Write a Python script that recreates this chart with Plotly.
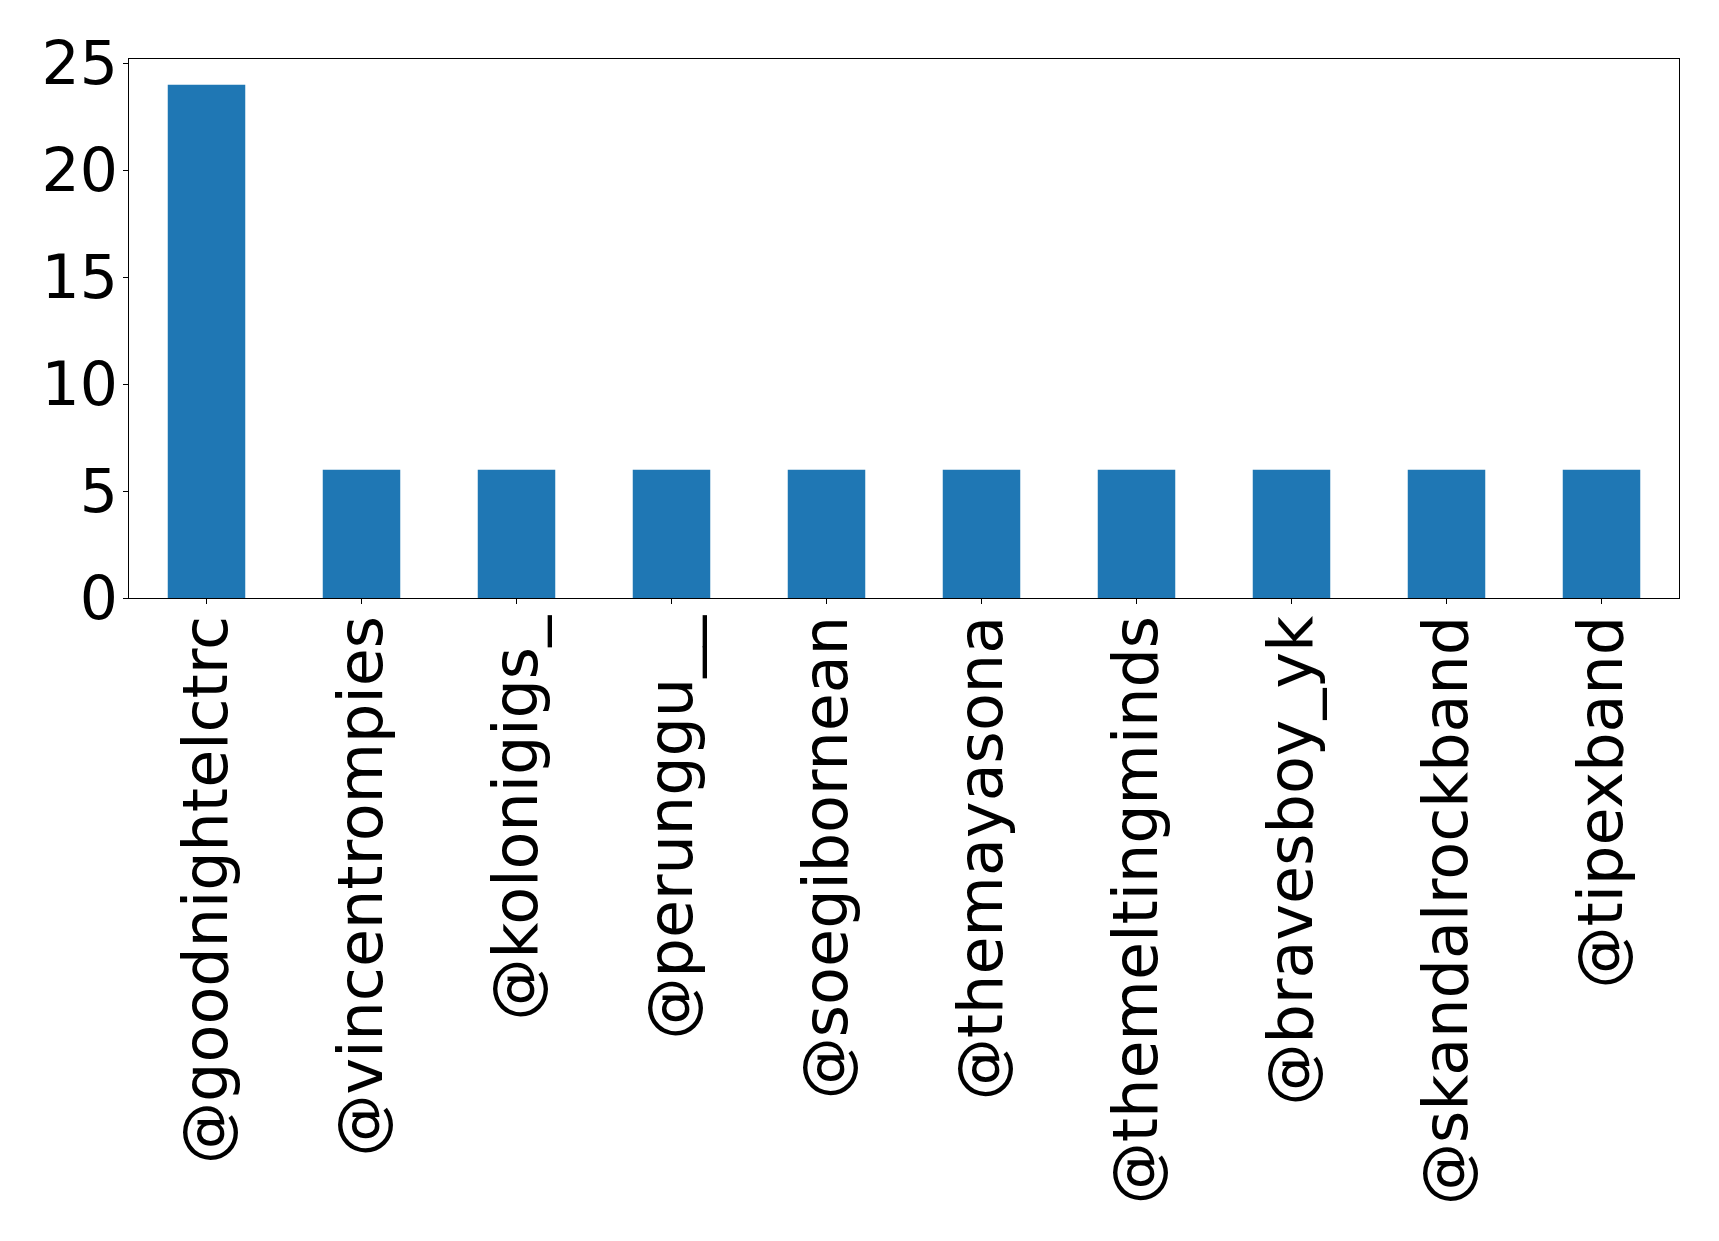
import plotly.graph_objects as go

# Top accounts by mention count
accounts = [
    "@goodnightelctrc", "@vincentrompies", "@kolonigigs_", "@perunggu__",
    "@soegibornean", "@themayasona", "@themeltingminds", "@bravesboy_yk",
    "@skandalrockband", "@tipexband",
]
counts = [24, 6, 6, 6, 6, 6, 6, 6, 6, 6]
y_ticks = [0, 5, 10, 15, 20, 25]

fig = go.Figure(
    go.Bar(
        x=list(range(len(accounts))),
        y=counts,
        width=0.5,
        marker=dict(color="#1f77b4", line=dict(width=0)),
    )
)

axis_common = dict(
    showline=True, linecolor="black", linewidth=1.1, mirror=True,
    ticks="outside", ticklen=5, tickwidth=1.1, tickcolor="black",
    showgrid=False, zeroline=False,
)

fig.update_layout(
    width=1719, height=1241,
    margin=dict(l=129, r=40, t=59, b=643),
    paper_bgcolor="white", plot_bgcolor="white",
    font=dict(family="DejaVu Sans", color="black"),
    showlegend=False,
    xaxis=dict(
        **axis_common,
        range=[-0.5, len(accounts) - 0.5],
        tickmode="array",
        tickvals=list(range(len(accounts))),
        ticktext=accounts,
        tickangle=-90,
        ticklabelstandoff=-13,
        tickfont=dict(size=62, family="DejaVu Sans", color="black"),
    ),
    yaxis=dict(
        **axis_common,
        range=[0, 25.2],
        tickmode="array",
        tickvals=y_ticks,
        ticktext=[str(v) for v in y_ticks],
        ticklabelstandoff=-7,
        tickfont=dict(size=60, family="DejaVu Sans", color="black"),
    ),
)

fig.write_html("out.html")
